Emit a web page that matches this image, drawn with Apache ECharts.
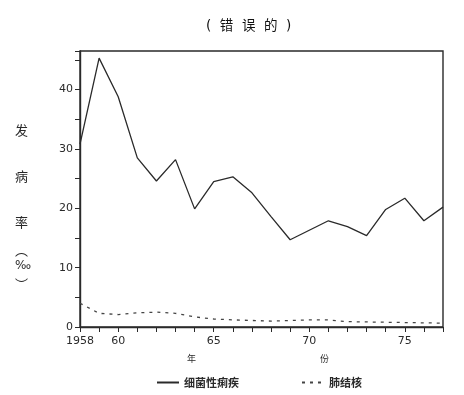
<!DOCTYPE html>
<html>
<head>
<meta charset="utf-8">
<script src="https://cdn.jsdelivr.net/npm/echarts@6/dist/echarts.min.js"></script>
<style>html,body{margin:0;padding:0;background:#fff;}#c{width:464px;height:395px;}</style>
</head>
<body>
<div id="c"></div>
<script>
var years = [1958,1959,1960,1961,1962,1963,1964,1965,1966,1967,1968,1969,1970,1971,1972,1973,1974,1975,1976,1977];
var dysentery = [30.8,45.3,38.8,28.5,24.6,28.2,19.9,24.5,25.3,22.6,18.6,14.7,16.3,17.9,16.9,15.4,19.8,21.7,17.9,20.2];
var tuberculosis = [4.0,2.3,2.1,2.4,2.5,2.3,1.7,1.35,1.2,1.1,1.0,1.1,1.2,1.2,0.9,0.85,0.8,0.75,0.7,0.65];
var seriesNames = ['细菌性痢疾','肺结核'];
var yLabelsShown = [0,10,20,30,40];
var xLabelMap = {1958:'1958',1960:'60',1965:'65',1970:'70',1975:'75'};

var ink = '#2a2a2a';
var chart = echarts.init(document.getElementById('c'));
function pair(xs, ys){ return xs.map(function(x,i){ return [x, ys[i]]; }); }
chart.setOption({
  animation:false,
  backgroundColor:'#fff',
  title:{
    text:'(  错  误  的  )', left:201, top:15,
    textStyle:{fontFamily:'"DejaVu Sans","Noto Sans CJK SC"', fontSize:13.5, fontWeight:'normal', color:'#111'}
  },
  grid:{left:80, right:21, top:51, bottom:68, show:true, borderColor:ink, borderWidth:1.4, backgroundColor:'transparent'},
  xAxis:{
    type:'value', min:1958, max:1977, interval:1,
    axisLine:{show:true, lineStyle:{color:ink, width:1.4}},
    axisTick:{show:true, inside:false, length:5, lineStyle:{color:ink, width:1}},
    splitLine:{show:false},
    axisLabel:{
      margin:9, color:ink, fontFamily:'DejaVu Sans', fontSize:11,
      formatter:function(v){ return xLabelMap[v] || ''; }
    }
  },
  yAxis:{
    type:'value', min:0, max:46.5, interval:5,
    axisLine:{show:true, lineStyle:{color:ink, width:1.4}},
    axisTick:{show:true, inside:false, length:5, lineStyle:{color:ink, width:1}},
    splitLine:{show:false},
    axisLabel:{
      margin:7, color:ink, fontFamily:'DejaVu Sans', fontSize:11,
      formatter:function(v){ return yLabelsShown.indexOf(v) >= 0 ? String(v) : ''; }
    }
  },
  legend:{
    left:151, top:372, itemGap:62, itemWidth:22, itemHeight:10,
    itemStyle:{opacity:0},
    textStyle:{fontFamily:'Noto Sans CJK SC', fontSize:11, color:ink, fontWeight:'bold'},
    data:seriesNames
  },
  graphic:[
    {type:'text', left:15, top:124, style:{text:'发', font:'13px "Noto Sans CJK SC"', fill:ink}},
    {type:'text', left:15, top:170, style:{text:'病', font:'13px "Noto Sans CJK SC"', fill:ink}},
    {type:'text', left:15, top:216, style:{text:'率', font:'13px "Noto Sans CJK SC"', fill:ink}},
    {type:'text', left:15, top:244, style:{text:'︵', font:'13px "Noto Sans CJK SC"', fill:ink}},
    {type:'text', left:15, top:260, style:{text:'‰', font:'12px "DejaVu Sans"', fill:ink}},
    {type:'text', left:15, top:278, style:{text:'︶', font:'13px "Noto Sans CJK SC"', fill:ink}},
    {type:'text', left:187, top:354, style:{text:'年', font:'9px "Noto Sans CJK SC"', fill:ink}},
    {type:'text', left:320, top:354, style:{text:'份', font:'9px "Noto Sans CJK SC"', fill:ink}}
  ],
  series:[
    {
      name:seriesNames[0], type:'line', data:pair(years, dysentery),
      symbol:'none', lineStyle:{color:ink, width:1.3}, itemStyle:{color:ink}
    },
    {
      name:seriesNames[1], type:'line', data:pair(years, tuberculosis),
      symbol:'none', lineStyle:{color:'#444', width:1.3, type:[3,5]}, itemStyle:{color:'#444'}
    }
  ]
});
</script>
</body>
</html>
